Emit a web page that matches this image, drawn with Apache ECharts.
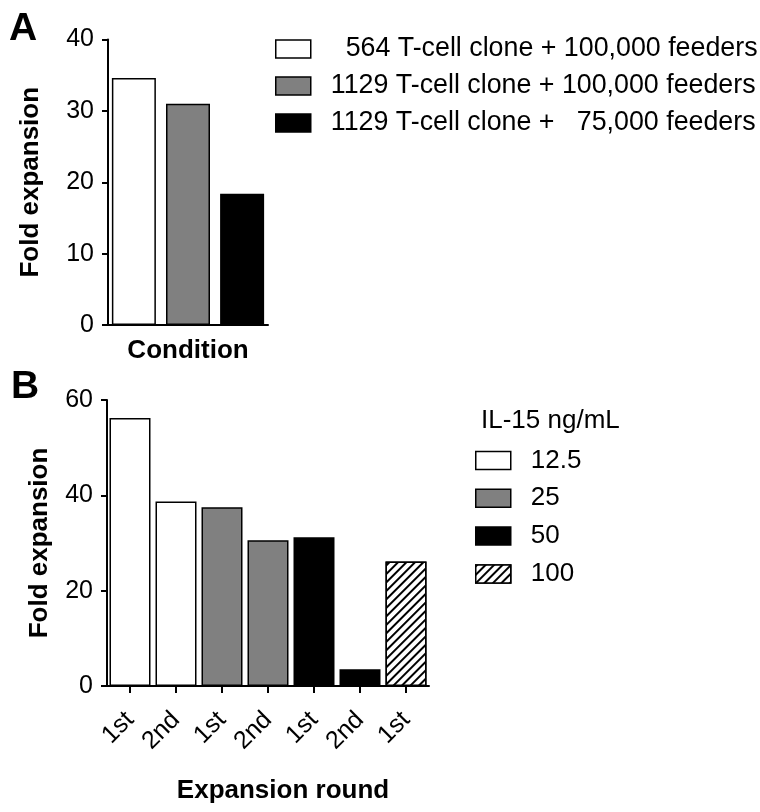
<!DOCTYPE html>
<html>
<head>
<meta charset="utf-8">
<script src="https://cdn.jsdelivr.net/npm/echarts@6/dist/echarts.min.js"></script>
<style>
  html, body { margin: 0; padding: 0; background: #fff; }
  #chart { width: 760px; height: 812px; }
</style>
</head>
<body>
<div id="chart"></div>
<script>
// Panel A: fold expansion per culture condition
const conditionNames = [
  '  564 T-cell clone + 100,000 feeders',
  '1129 T-cell clone + 100,000 feeders',
  '1129 T-cell clone +   75,000 feeders'
];
const conditionValues = [34.6, 31.0, 18.4];
const conditionFills = ['#ffffff', '#808080', '#000000'];
const conditionAxis = ['Condition'];

// Panel B: fold expansion per expansion round, grouped by IL-15 dose
const roundLabels = ['1st', '2nd', '1st', '2nd', '1st', '2nd', '1st'];
const roundValues = [56.2, 38.7, 37.5, 30.6, 31.2, 3.5, 26.1];
const roundDose = ['12.5', '12.5', '25', '25', '50', '50', '100'];
const doseNames = ['12.5', '25', '50', '100'];
const doseFills = ['#ffffff', '#808080', '#000000', '#ffffff'];

const yTicksA = { min: 0, max: 40, interval: 10 };
const yTicksB = { min: 0, max: 60, interval: 20 };

const FONT = '"Liberation Sans", Arial, Helvetica, sans-serif';
const hatch = {
  symbol: 'rect',
  symbolSize: 1,
  color: '#000',
  backgroundColor: '#fff',
  dashArrayX: [1, 0],
  dashArrayY: [1.6, 3.4],
  rotation: -Math.PI / 4
};

const axisLine = { show: true, lineStyle: { color: '#000', width: 2 } };
const tickLabel = { color: '#000', fontSize: 25, fontFamily: FONT };
const axisTitle = { color: '#000', fontSize: 26, fontWeight: 'bold', fontFamily: FONT };

const seriesA = conditionNames.map((name, i) => ({
  name: name,
  type: 'bar',
  xAxisIndex: 0,
  yAxisIndex: 0,
  barWidth: 44,
  barGap: '23%',
  itemStyle: { color: conditionFills[i], borderColor: '#000', borderWidth: 1.5 },
  data: [conditionValues[i]]
}));

const seriesB = doseNames.map((dose, i) => ({
  name: dose,
  type: 'bar',
  xAxisIndex: 1,
  yAxisIndex: 1,
  barWidth: 41,
  barGap: '-100%',
  itemStyle: Object.assign(
    { color: doseFills[i], borderColor: '#000', borderWidth: 1.5 },
    dose === '100' ? { decal: hatch } : {}
  ),
  data: roundValues.map((v, j) => (roundDose[j] === dose ? v : '-'))
}));

const chart = echarts.init(document.getElementById('chart'), null, { renderer: 'canvas' });
chart.setOption({
  backgroundColor: '#fff',
  animation: false,
  aria: { enabled: false },
  title: [
    { text: 'A', left: 4, top: 5, textStyle: { fontSize: 39, fontWeight: 'bold', color: '#000', fontFamily: FONT } },
    { text: 'B', left: 6, top: 363, textStyle: { fontSize: 39, fontWeight: 'bold', color: '#000', fontFamily: FONT } },
    { text: 'IL-15 ng/mL', left: 476, top: 403, textStyle: { fontSize: 26, fontWeight: 'normal', color: '#000', fontFamily: FONT } }
  ],
  legend: [
    {
      data: conditionNames,
      orient: 'vertical',
      left: 275,
      top: 35.5,
      padding: 0,
      icon: 'rect',
      itemWidth: 35,
      itemHeight: 18,
      itemGap: 10,
      selectedMode: false,
      itemStyle: { borderColor: '#000', borderWidth: 1.5 },
      textStyle: { color: '#000', fontSize: 26.8, fontFamily: FONT, lineHeight: 25, padding: [0, 0, 0, 15] }
    },
    {
      data: doseNames,
      orient: 'vertical',
      left: 475,
      top: 447.5,
      padding: 0,
      icon: 'rect',
      itemWidth: 35,
      itemHeight: 18,
      itemGap: 11.8,
      selectedMode: false,
      itemStyle: { borderColor: '#000', borderWidth: 1.5 },
      textStyle: { color: '#000', fontSize: 26, fontFamily: FONT, lineHeight: 25, padding: [0, 0, 0, 15] }
    }
  ],
  grid: [
    { left: 108, top: 39.5, width: 160, height: 285.5, containLabel: false },
    { left: 107, top: 400, width: 322, height: 286, containLabel: false }
  ],
  xAxis: [
    {
      type: 'category',
      gridIndex: 0,
      data: conditionAxis,
      axisLine: axisLine,
      axisTick: { show: false },
      axisLabel: { show: false },
      name: 'Condition',
      nameLocation: 'middle',
      nameGap: 13,
      nameTextStyle: axisTitle
    },
    {
      type: 'category',
      gridIndex: 1,
      data: roundLabels,
      axisLine: axisLine,
      axisTick: { show: true, alignWithLabel: true, length: 7, lineStyle: { color: '#000', width: 2 } },
      axisLabel: Object.assign({ rotate: 45, margin: 30, interval: 0 }, tickLabel, { fontSize: 25 }),
      name: 'Expansion round',
      nameLocation: 'middle',
      nameGap: 92,
      nameTextStyle: Object.assign({ padding: [0, 0, 0, 30] }, axisTitle)
    }
  ],
  yAxis: [
    {
      type: 'value',
      gridIndex: 0,
      min: yTicksA.min,
      max: yTicksA.max,
      interval: yTicksA.interval,
      axisLine: axisLine,
      axisTick: { show: true, length: 6, lineStyle: { color: '#000', width: 2 } },
      axisLabel: Object.assign({ margin: 14 }, tickLabel),
      splitLine: { show: false },
      name: 'Fold expansion',
      nameLocation: 'middle',
      nameRotate: 90,
      nameGap: 64,
      nameTextStyle: axisTitle
    },
    {
      type: 'value',
      gridIndex: 1,
      min: yTicksB.min,
      max: yTicksB.max,
      interval: yTicksB.interval,
      axisLine: axisLine,
      axisTick: { show: true, length: 6, lineStyle: { color: '#000', width: 2 } },
      axisLabel: Object.assign({ margin: 14 }, tickLabel),
      splitLine: { show: false },
      name: 'Fold expansion',
      nameLocation: 'middle',
      nameRotate: 90,
      nameGap: 54,
      nameTextStyle: axisTitle
    }
  ],
  series: seriesA.concat(seriesB)
});
</script>
</body>
</html>
